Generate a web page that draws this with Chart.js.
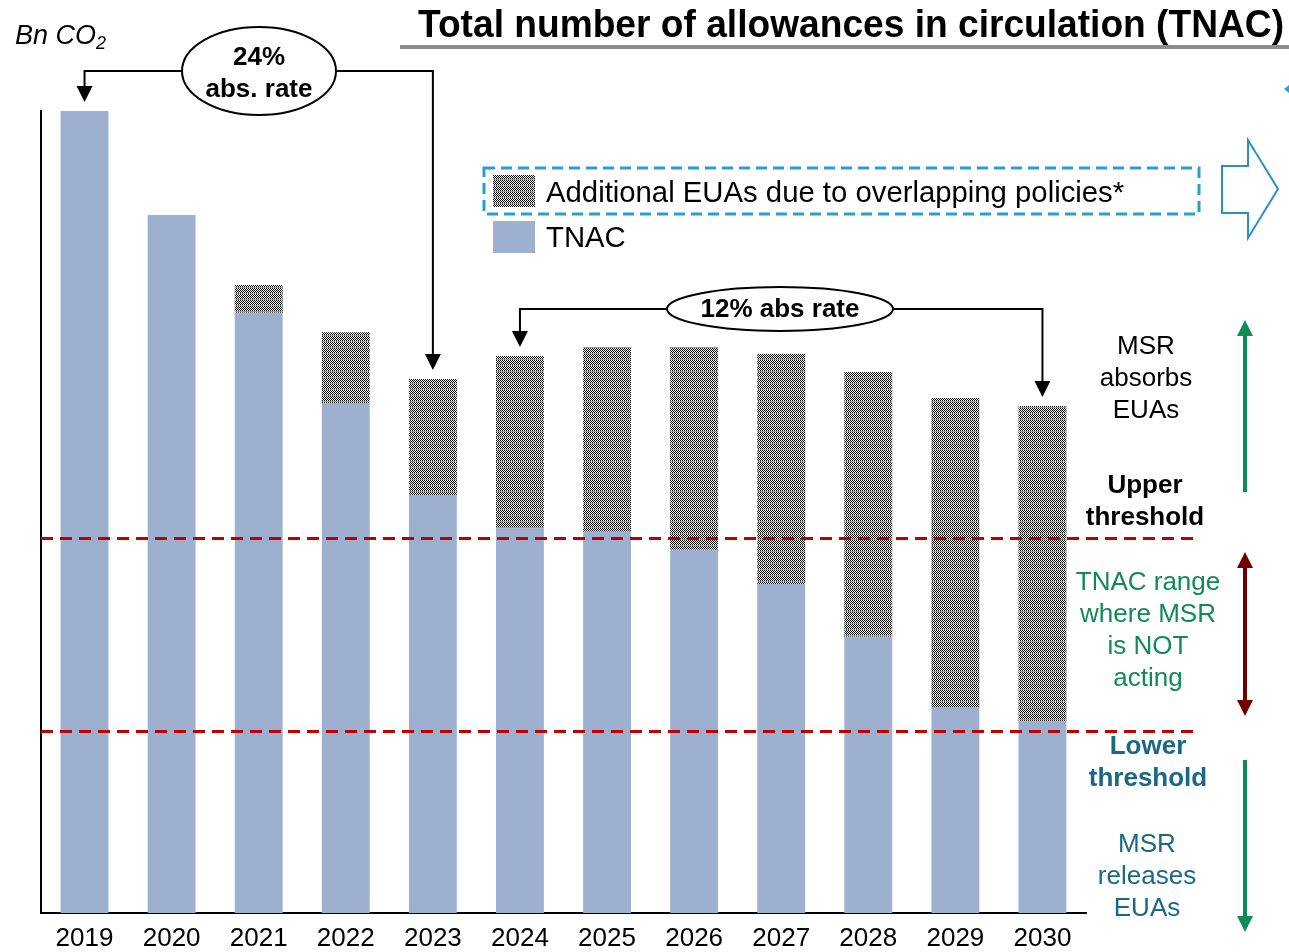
<!DOCTYPE html>
<html>
<head>
<meta charset="utf-8">
<title>TNAC</title>
<script src="https://cdn.jsdelivr.net/npm/chart.js@4.4.1/dist/chart.umd.min.js"></script>
<style>
  html, body { margin: 0; padding: 0; background: #fff; }
  #wrap { width: 1289px; height: 952px; position: relative; }
</style>
</head>
<body>
<div id="wrap"><canvas id="tnacChart" width="1289" height="952"></canvas></div>
<script>
// Years on the x axis
const years = ['2019', '2020', '2021', '2022', '2023', '2024', '2025', '2026', '2027', '2028', '2029', '2030'];
// TNAC, Bn CO2
const tnac = [1.78, 1.549, 1.332, 1.132, 0.928, 0.854, 0.846, 0.806, 0.730, 0.613, 0.457, 0.426];
// Extra EUAs stacked on top of TNAC, Bn CO2
const additional = [0, 0, 0.062, 0.157, 0.257, 0.382, 0.410, 0.450, 0.511, 0.588, 0.686, 0.699];
// MSR thresholds, Bn CO2
const upperThreshold = 0.833;
const lowerThreshold = 0.405;
const yMax = 1.78;

const FONT = '"Liberation Sans", Arial, Helvetica, sans-serif';
const TNAC_BLUE = '#9db0cf';

// Fine checker hatch for the additional EUAs
function makeHatch(ctx) {
  const c = document.createElement('canvas');
  c.width = 4; c.height = 6;
  const g = c.getContext('2d');
  g.fillStyle = '#fff';
  g.fillRect(0, 0, 4, 6);
  g.fillStyle = '#000';
  for (let y = 0; y < 5; y++) {
    for (let x = 0; x < 4; x++) {
      if ((x + y) % 2 === 0) g.fillRect(x, y, 1, 1);
    }
  }
  g.fillStyle = '#9a9a9a';
  g.fillRect(0, 5, 4, 1);
  return ctx.createPattern(c, 'repeat');
}

function arrowHead(ctx, x, y, dir, w, h, color) {
  // dir: 1 = pointing down, -1 = pointing up
  ctx.fillStyle = color;
  ctx.beginPath();
  ctx.moveTo(x, y);
  ctx.lineTo(x - w / 2, y - dir * h);
  ctx.lineTo(x + w / 2, y - dir * h);
  ctx.closePath();
  ctx.fill();
}

function vArrow(ctx, x, y1, y2, color, both) {
  // line from y1 to y2, head at y2 (and y1 if both)
  const dir = y2 > y1 ? 1 : -1;
  ctx.strokeStyle = color;
  ctx.lineWidth = 4;
  ctx.beginPath();
  ctx.moveTo(x, both ? y1 + dir * 14 : y1);
  ctx.lineTo(x, y2 - dir * 14);
  ctx.stroke();
  arrowHead(ctx, x, y2, dir, 16, 16, color);
  if (both) arrowHead(ctx, x, y1, -dir, 16, 16, color);
}

function ellipseLabel(ctx, cx, cy, rx, ry, lines, lineGap, textDy) {
  ctx.fillStyle = '#fff';
  ctx.strokeStyle = '#000';
  ctx.lineWidth = 2;
  ctx.beginPath();
  ctx.ellipse(cx, cy, rx, ry, 0, 0, Math.PI * 2);
  ctx.fill();
  ctx.stroke();
  ctx.fillStyle = '#000';
  ctx.font = 'bold 26px ' + FONT;
  ctx.textAlign = 'center';
  ctx.textBaseline = 'middle';
  const start = cy + textDy - (lines.length - 1) * lineGap / 2;
  lines.forEach((t, i) => ctx.fillText(t, cx, start + i * lineGap));
}

// Bracket connector: from ellipse side, across, then down to a bar top
function connector(ctx, xFrom, yLine, xTo, yTip) {
  ctx.strokeStyle = '#000';
  ctx.lineWidth = 2;
  ctx.beginPath();
  ctx.moveTo(xFrom, yLine);
  ctx.lineTo(xTo, yLine);
  ctx.lineTo(xTo, yTip - 14);
  ctx.stroke();
  arrowHead(ctx, xTo, yTip, 1, 16, 16, '#000');
}

function textBlock(ctx, lines, cx, y0, gap, font, color) {
  ctx.font = font;
  ctx.fillStyle = color;
  ctx.textAlign = 'center';
  ctx.textBaseline = 'middle';
  lines.forEach((t, i) => ctx.fillText(t, cx, y0 + i * gap));
}

const annotations = {
  id: 'annotations',
  afterDatasetsDraw(chart) {
    const ctx = chart.ctx;
    const xs = chart.scales.x;
    const ys = chart.scales.y;
    const area = chart.chartArea;
    const top = i => ys.getPixelForValue(tnac[i] + additional[i]);
    ctx.save();

    // threshold lines
    ctx.strokeStyle = '#c00000';
    ctx.lineWidth = 3;
    ctx.setLineDash([12, 7]);
    [upperThreshold, lowerThreshold].forEach(v => {
      const y = Math.round(ys.getPixelForValue(v)) + 0.5;
      ctx.beginPath();
      ctx.moveTo(area.left, y);
      ctx.lineTo(1197, y);
      ctx.stroke();
    });
    ctx.setLineDash([]);

    // 24% absorption rate bracket (2019 -> 2023)
    connector(ctx, 182, 71, xs.getPixelForValue(0), top(0) - 9);
    connector(ctx, 336, 71, xs.getPixelForValue(4), top(4) - 9);
    ellipseLabel(ctx, 259, 71, 77, 44, ['24%', 'abs. rate'], 32, 3);

    // 12% absorption rate bracket (2024 -> 2030)
    connector(ctx, 668, 309, xs.getPixelForValue(5), top(5) - 9);
    connector(ctx, 892, 309, xs.getPixelForValue(11), top(11) - 9);
    ellipseLabel(ctx, 780, 309, 113, 22, ['12% abs rate'], 0, 1);

    // title + rule
    ctx.fillStyle = '#000';
    ctx.font = 'bold 38px ' + FONT;
    ctx.textAlign = 'left';
    ctx.textBaseline = 'alphabetic';
    ctx.fillText('Total number of allowances in circulation (TNAC)', 418, 37, 866);
    ctx.fillStyle = '#8c8c8c';
    ctx.fillRect(400, 45, 889, 4);

    // unit label
    ctx.fillStyle = '#000';
    ctx.font = 'italic 27px ' + FONT;
    ctx.fillText('Bn CO', 15, 44);
    const w = ctx.measureText('Bn CO').width;
    ctx.font = 'italic 18px ' + FONT;
    ctx.fillText('2', 15 + w, 49);

    // legend
    ctx.strokeStyle = '#2a9fcc';
    ctx.lineWidth = 3;
    ctx.setLineDash([11, 6]);
    ctx.strokeRect(484, 168, 715, 46);
    ctx.setLineDash([]);
    ctx.fillStyle = chart.data.datasets[1].backgroundColor;
    ctx.fillRect(493, 175, 42, 32);
    ctx.fillStyle = TNAC_BLUE;
    ctx.fillRect(493, 221, 42, 32);
    ctx.fillStyle = '#000';
    ctx.font = '29.3px ' + FONT;
    ctx.textBaseline = 'middle';
    ctx.fillText(chart.data.datasets[1].label, 546, 194);
    ctx.fillText(chart.data.datasets[0].label, 546, 239);

    // outlined block arrow next to the legend
    ctx.strokeStyle = '#2b8fc4';
    ctx.fillStyle = '#fff';
    ctx.lineWidth = 2;
    ctx.beginPath();
    ctx.moveTo(1222, 166);
    ctx.lineTo(1248, 166);
    ctx.lineTo(1248, 140);
    ctx.lineTo(1278, 189);
    ctx.lineTo(1248, 238);
    ctx.lineTo(1248, 213);
    ctx.lineTo(1222, 213);
    ctx.closePath();
    ctx.fill();
    ctx.stroke();
    ctx.fillStyle = '#2a9fd6';
    ctx.beginPath();
    ctx.moveTo(1284, 89);
    ctx.lineTo(1289, 85);
    ctx.lineTo(1289, 93);
    ctx.closePath();
    ctx.fill();

    // right-hand explanations
    textBlock(ctx, ['MSR', 'absorbs', 'EUAs'], 1146, 347, 32, '26px ' + FONT, '#000');
    textBlock(ctx, ['Upper', 'threshold'], 1145, 486, 32, 'bold 26px ' + FONT, '#000');
    textBlock(ctx, ['TNAC range', 'where MSR', 'is NOT', 'acting'], 1148, 583, 32, '26px ' + FONT, '#0f8a58');
    textBlock(ctx, ['Lower', 'threshold'], 1148, 747, 32, 'bold 26px ' + FONT, '#1a6786');
    textBlock(ctx, ['MSR', 'releases', 'EUAs'], 1147, 845, 32, '26px ' + FONT, '#1a6786');

    vArrow(ctx, 1245, 492, 320, '#0e8c58', false);
    vArrow(ctx, 1245, 552, 716, '#6e0000', true);
    vArrow(ctx, 1245, 760, 932, '#0e8c58', false);

    ctx.restore();
  }
};

const canvas = document.getElementById('tnacChart');
const ctx = canvas.getContext('2d');
const hatch = makeHatch(ctx);

new Chart(ctx, {
  type: 'bar',
  data: {
    labels: years,
    datasets: [
      {
        label: 'TNAC',
        data: tnac,
        backgroundColor: TNAC_BLUE,
        borderWidth: 0,
        barPercentage: 0.55,
        categoryPercentage: 1
      },
      {
        label: 'Additional EUAs due to overlapping policies*',
        data: additional,
        backgroundColor: hatch,
        borderWidth: 0,
        barPercentage: 0.55,
        categoryPercentage: 1
      }
    ]
  },
  options: {
    responsive: false,
    animation: false,
    layout: { padding: { left: 41, right: 203, top: 111, bottom: 0 } },
    plugins: {
      legend: { display: false },
      tooltip: { enabled: false },
      title: { display: false }
    },
    scales: {
      x: {
        stacked: true,
        grid: { display: false, drawTicks: false },
        border: { display: true, color: '#000', width: 2 },
        ticks: { color: '#000', font: { family: FONT, size: 26 }, padding: 10, maxRotation: 0 },
        afterFit: scale => { scale.height = 39; }
      },
      y: {
        stacked: true,
        min: 0,
        max: yMax,
        grid: { display: false, drawTicks: false },
        border: { display: true, color: '#000', width: 2 },
        ticks: { display: false },
        afterFit: scale => { scale.width = 0; }
      }
    }
  },
  plugins: [annotations]
});
</script>
</body>
</html>
